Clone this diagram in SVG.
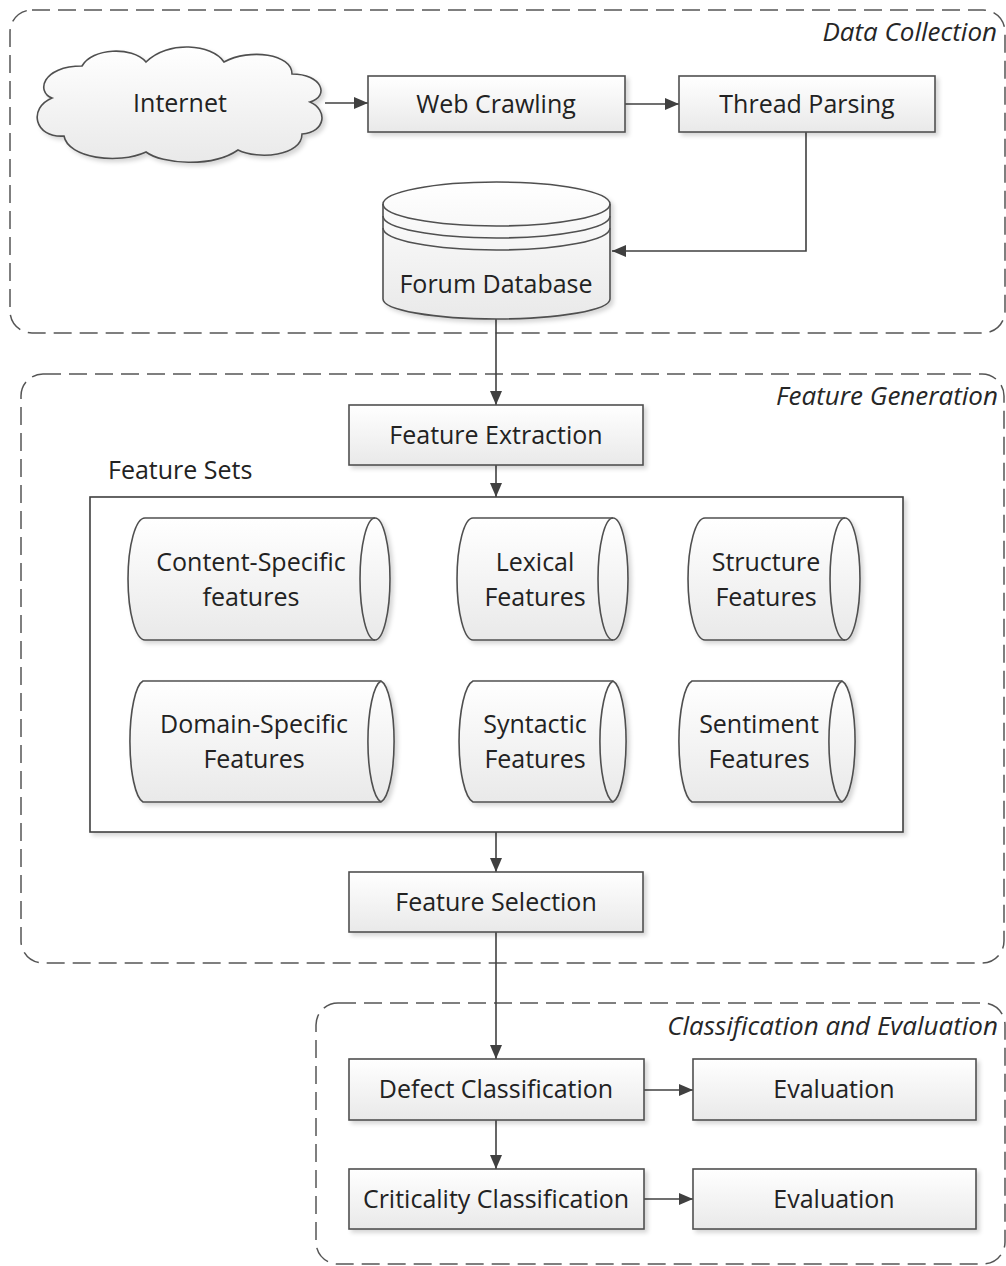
<svg xmlns="http://www.w3.org/2000/svg" width="1006" height="1266" viewBox="0 0 1006 1266">
  <defs>
    <linearGradient id="boxFill" x1="0" y1="0" x2="0" y2="1">
      <stop offset="0" stop-color="#ffffff"/>
      <stop offset="1" stop-color="#e9e9e9"/>
    </linearGradient>
    <filter id="shadow" x="-10%" y="-10%" width="125%" height="130%">
      <feDropShadow dx="3" dy="3" stdDeviation="2" flood-color="#000" flood-opacity="0.16"/>
    </filter>
    <marker id="arrow" viewBox="0 0 14 12" refX="14" refY="6" markerWidth="14" markerHeight="12" markerUnits="userSpaceOnUse" orient="auto">
      <path d="M0,0 L14,6 L0,12 Z" fill="#404040"/>
    </marker>
    <style>
      .frame { fill: none; stroke: #555; stroke-width: 1.5; stroke-dasharray: 18 8; }
      .title { font-family: "Open Sans", "Liberation Sans", sans-serif; font-style: italic; font-size: 26px; fill: #262626; text-anchor: end; }
      .box { fill: url(#boxFill); stroke: #505050; stroke-width: 1.6; filter: url(#shadow); }
      .plain { fill: #fff; stroke: #404040; stroke-width: 1.6; filter: url(#shadow); }
      .line { fill: none; stroke: #505050; stroke-width: 1.6; }
      .label { font-family: "Open Sans", "Liberation Sans", sans-serif; font-size: 25px; fill: #222; text-anchor: middle; }
      .caption { font-family: "Open Sans", "Liberation Sans", sans-serif; font-size: 25px; fill: #222; }
      .conn { fill: none; stroke: #404040; stroke-width: 1.6; }
    </style>
  </defs>

  <rect width="1006" height="1266" fill="#ffffff"/>

  <!-- stage frames -->
  <g id="frame-data-collection">
    <rect class="frame" x="10" y="10" width="995" height="323" rx="22" ry="22"/>
    <text class="title" x="997" y="41">Data Collection</text>
  </g>
  <g id="frame-feature-generation">
    <rect class="frame" x="21" y="374" width="983" height="589" rx="22" ry="22"/>
    <text class="title" x="998" y="405">Feature Generation</text>
  </g>
  <g id="frame-classification">
    <rect class="frame" x="316" y="1003" width="689" height="261" rx="22" ry="22"/>
    <text class="title" x="998" y="1035">Classification and Evaluation</text>
  </g>

  <!-- connectors -->
  <g id="connectors">
    <line class="conn" x1="325" y1="103" x2="368" y2="103" marker-end="url(#arrow)"/>
    <line class="conn" x1="625" y1="104" x2="679" y2="104" marker-end="url(#arrow)"/>
    <polyline class="conn" points="806,132 806,251 612,251" marker-end="url(#arrow)"/>
    <line class="conn" x1="496" y1="319" x2="496" y2="405" marker-end="url(#arrow)"/>
    <line class="conn" x1="496" y1="465" x2="496" y2="497" marker-end="url(#arrow)"/>
    <line class="conn" x1="496" y1="832" x2="496" y2="872" marker-end="url(#arrow)"/>
    <line class="conn" x1="496" y1="932" x2="496" y2="1059" marker-end="url(#arrow)"/>
    <line class="conn" x1="644" y1="1090" x2="693" y2="1090" marker-end="url(#arrow)"/>
    <line class="conn" x1="496" y1="1120" x2="496" y2="1169" marker-end="url(#arrow)"/>
    <line class="conn" x1="644" y1="1199" x2="693" y2="1199" marker-end="url(#arrow)"/>
  </g>

  <!-- Data Collection nodes -->
  <g id="internet">
    <path class="box" d="M52,98 C36,92 42,66 82,66 C92,48 132,46 146,62 C168,40 212,44 224,62 C250,48 292,54 292,74 C322,74 330,96 310,102 C328,110 326,132 302,134 C302,156 258,160 238,150 C212,168 162,164 146,152 C118,165 68,158 64,136 C34,138 28,108 52,98 Z"/>
    <text class="label" x="180" y="112">Internet</text>
  </g>
  <g id="web-crawling">
    <rect class="box" x="368" y="76" width="257" height="56"/>
    <text class="label" x="496" y="113">Web Crawling</text>
  </g>
  <g id="thread-parsing">
    <rect class="box" x="679" y="76" width="256" height="56"/>
    <text class="label" x="807" y="113">Thread Parsing</text>
  </g>
  <g id="forum-database">
    <path class="box" d="M383,204 L383,299 A113.5,20 0 0 0 610,299 L610,204 A113.5,22 0 0 0 383,204 Z"/>
    <path class="line" d="M383,204 A113.5,22 0 0 0 610,204"/>
    <path class="line" d="M383,216 A113.5,22 0 0 0 610,216"/>
    <path class="line" d="M383,228 A113.5,22 0 0 0 610,228"/>
    <text class="label" x="496" y="293">Forum Database</text>
  </g>

  <!-- Feature Generation nodes -->
  <g id="feature-extraction">
    <rect class="box" x="349" y="405" width="294" height="60"/>
    <text class="label" x="496" y="444">Feature Extraction</text>
  </g>
  <g id="feature-sets">
    <text class="caption" x="108" y="479">Feature Sets</text>
    <rect class="plain" x="90" y="497" width="813" height="335"/>
  </g>

  <g id="content-specific">
    <path class="box" d="M145,518 L375,518 A15,61 0 0 1 375,640 L145,640 A17,61 0 0 1 145,518 Z"/>
    <path class="line" d="M375,518 A15,61 0 0 0 375,640"/>
    <text class="label" x="251" y="571">Content-Specific</text>
    <text class="label" x="251" y="606">features</text>
  </g>
  <g id="lexical">
    <path class="box" d="M473,518 L613,518 A15,61 0 0 1 613,640 L473,640 A16,61 0 0 1 473,518 Z"/>
    <path class="line" d="M613,518 A15,61 0 0 0 613,640"/>
    <text class="label" x="535" y="571">Lexical</text>
    <text class="label" x="535" y="606">Features</text>
  </g>
  <g id="structure">
    <path class="box" d="M705,518 L845,518 A15,61 0 0 1 845,640 L705,640 A17,61 0 0 1 705,518 Z"/>
    <path class="line" d="M845,518 A15,61 0 0 0 845,640"/>
    <text class="label" x="766" y="571">Structure</text>
    <text class="label" x="766" y="606">Features</text>
  </g>
  <g id="domain-specific">
    <path class="box" d="M143,681 L381,681 A15,61 0 0 1 381,802 L143,802 A15,61 0 0 1 143,681 Z"/>
    <path class="line" d="M381,681 A15,61 0 0 0 381,802"/>
    <text class="label" x="254" y="733">Domain-Specific</text>
    <text class="label" x="254" y="768">Features</text>
  </g>
  <g id="syntactic">
    <path class="box" d="M473,681 L613,681 A15,61 0 0 1 613,802 L473,802 A16,61 0 0 1 473,681 Z"/>
    <path class="line" d="M613,681 A15,61 0 0 0 613,802"/>
    <text class="label" x="535" y="733">Syntactic</text>
    <text class="label" x="535" y="768">Features</text>
  </g>
  <g id="sentiment">
    <path class="box" d="M692,681 L842,681 A15,61 0 0 1 842,802 L692,802 A15,61 0 0 1 692,681 Z"/>
    <path class="line" d="M842,681 A15,61 0 0 0 842,802"/>
    <text class="label" x="759" y="733">Sentiment</text>
    <text class="label" x="759" y="768">Features</text>
  </g>

  <g id="feature-selection">
    <rect class="box" x="349" y="872" width="294" height="60"/>
    <text class="label" x="496" y="911">Feature Selection</text>
  </g>

  <!-- Classification and Evaluation nodes -->
  <g id="defect-classification">
    <rect class="box" x="349" y="1059" width="295" height="61"/>
    <text class="label" x="496" y="1098">Defect Classification</text>
  </g>
  <g id="evaluation-defect">
    <rect class="box" x="693" y="1059" width="283" height="61"/>
    <text class="label" x="834" y="1098">Evaluation</text>
  </g>
  <g id="criticality-classification">
    <rect class="box" x="349" y="1169" width="295" height="60"/>
    <text class="label" x="496" y="1208">Criticality Classification</text>
  </g>
  <g id="evaluation-criticality">
    <rect class="box" x="693" y="1169" width="283" height="60"/>
    <text class="label" x="834" y="1208">Evaluation</text>
  </g>
</svg>
